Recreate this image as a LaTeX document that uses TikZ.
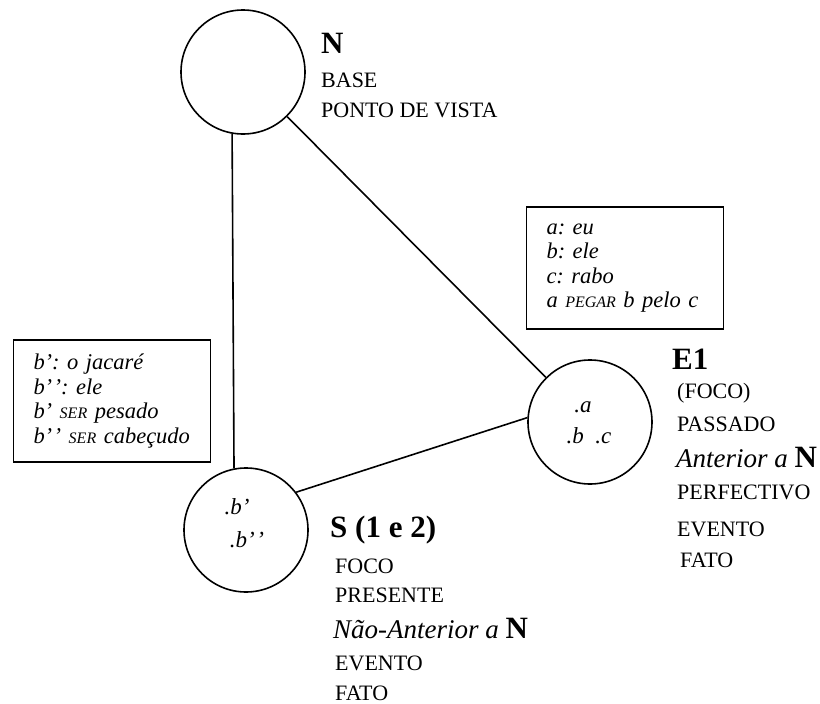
\documentclass[tikz,border=0pt]{standalone}
\usepackage{fontspec}
\setmainfont{Liberation Serif}
\frenchspacing
\begin{document}
\begin{tikzpicture}[x=1pt,y=-1pt,
  circ/.style={circle,draw,line width=1.6pt,minimum size=124pt,inner sep=0pt},
  lbl/.style={anchor=west,inner sep=0pt,font=\fontsize{22}{24}\selectfont},
  head/.style={anchor=west,inner sep=0pt,font=\fontsize{31}{33}\selectfont\bfseries},
  ital/.style={anchor=west,inner sep=0pt,font=\fontsize{27}{30}\selectfont\itshape},
  inner/.style={inner sep=0pt,font=\fontsize{23}{24}\selectfont\itshape},
  infobox/.style={draw,line width=1.4pt,inner xsep=20pt,text width=157pt,align=left,font=\fontsize{22.5}{24.5}\selectfont\itshape},
  conn/.style={line width=1.6pt}]
\useasboundingbox (0,0) rectangle (820,704);
\newcommand{\smc}[1]{{\fontsize{16}{16}\selectfont #1}}
\newcommand{\bigN}{{\upshape\bfseries\fontsize{31}{31}\selectfont N}}
\newcommand{\dpr}{’\kern1.5pt’}
% circles
\node[circ] (N) at (243,72) {};
\node[circ] (S) at (246,530) {};
\node[circ] (E) at (590,422) {};
% connectors
\draw[conn] (N.260.6) -- (S.101.2);
\draw[conn] (N) -- (E);
\draw[conn] (S.37.6) -- (E.176.3);
% circle contents
\node[inner] (ea) at (583,407) {.a};
\node[inner] (ebc) at (589,436) {.b\ \ .c};
\node[inner] (sb1) at (237,507) {.b’};
\node[inner] (sb2) at (247,540) {.b\dpr};
% N labels
\node[head] (Nh) at (321,43) {N};
\node[lbl] (N1) at (321,80) {BASE};
\node[lbl] (N2) at (321,110) {PONTO DE VISTA};
% E1 labels
\node[head] (Eh) at (672,359) {E1};
\node[lbl] (E1l) at (677,393) {(FOCO)};
\node[lbl] (E2l) at (677,424) {PASSADO};
\node[ital] (E3l) at (676,457) {Anterior a \bigN};
\node[lbl] (E4l) at (677,492) {PERFECTIVO};
\node[lbl] (E5l) at (677,529) {EVENTO};
\node[lbl] (E6l) at (680,560) {FATO};
% S labels
\node[head] (Sh) at (330,530) {S (1 e 2)};
\node[lbl] (S1l) at (335,566) {FOCO};
\node[lbl] (S2l) at (335,595) {PRESENTE};
\node[ital] (S3l) at (333,628) {Não-Anterior a \bigN};
\node[lbl] (S4l) at (335,663) {EVENTO};
\node[lbl] (S5l) at (335,693) {FATO};
% boxes
\node[infobox,minimum height=122pt] (box1) at (625,268) {a: eu\\ b: ele\\ c: rabo\\ a \smc{PEGAR} b pelo c};
\node[infobox,minimum height=122pt] (box2) at (112,401) {b’: o jacaré\\ b\dpr: ele\\ b’ \smc{SER} pesado\\ b\dpr{} \smc{SER} cabeçudo};
\end{tikzpicture}
\end{document}
